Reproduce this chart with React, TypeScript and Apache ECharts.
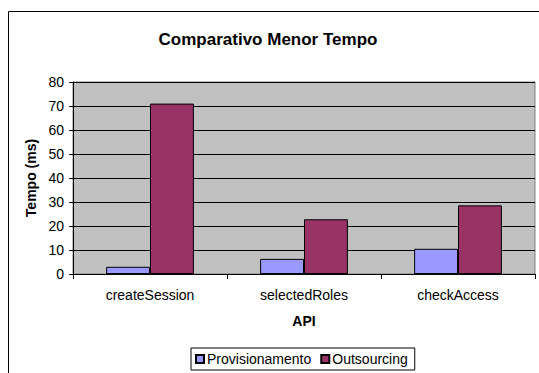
import React, { useEffect, useRef } from "react";
import * as echarts from "echarts";

const categories = ["createSession", "selectedRoles", "checkAccess"];
const provisionamento = [3.0, 6.3, 10.5];
const outsourcing = [71.0, 22.8, 28.6];
const seriesNames = ["Provisionamento", "Outsourcing"];
const yTicks = { min: 0, max: 80, interval: 10 };

const FONT = "'Liberation Sans', Arial, sans-serif";

export default function App() {
  const ref = useRef<HTMLDivElement>(null);
  useEffect(() => {
    if (!ref.current) return;
    const chart = echarts.init(ref.current, undefined, { renderer: "svg" });
    chart.setOption({
      animation: false,
      backgroundColor: "#ffffff",
      textStyle: { fontFamily: FONT },
      graphic: [
        {
          type: "rect",
          shape: { x: 8.5, y: 11.5, width: 540, height: 370 },
          style: { fill: "none", stroke: "#000", lineWidth: 1 },
          silent: true,
        },
      ],
      title: {
        text: "Comparativo Menor Tempo",
        left: 263,
        textAlign: "center",
        top: 26,
        textStyle: { fontFamily: FONT, fontSize: 17, fontWeight: "bold", color: "#000" },
      },
      grid: {
        left: 73,
        right: 4,
        top: 82,
        bottom: 99,
        show: true,
        backgroundColor: "#C0C0C0",
        borderColor: "#808080",
        borderWidth: 1,
      },
      legend: {
        data: seriesNames,
        left: 191,
        top: 348,
        itemWidth: 8,
        itemHeight: 8,
        itemGap: 9,
        padding: [4, 7, 4, 4],
        borderColor: "#000",
        borderWidth: 1,
        borderRadius: 0,
        icon: "rect",
        textStyle: { fontFamily: FONT, fontSize: 14, color: "#000", padding: [0, 0, 0, -2] },
      },
      xAxis: {
        type: "category",
        data: categories,
        name: "API",
        nameLocation: "middle",
        nameGap: 40,
        nameTextStyle: { fontFamily: FONT, fontSize: 14, fontWeight: "bold", color: "#000" },
        axisLine: { lineStyle: { color: "#000", width: 1 } },
        axisTick: { show: true, length: 5, lineStyle: { color: "#000" } },
        axisLabel: { fontFamily: FONT, fontSize: 14, color: "#000", margin: 14 },
        splitLine: { show: false },
      },
      yAxis: {
        type: "value",
        min: yTicks.min,
        max: yTicks.max,
        interval: yTicks.interval,
        name: "Tempo (ms)",
        nameLocation: "middle",
        nameGap: 33,
        nameRotate: 90,
        nameTextStyle: { fontFamily: FONT, fontSize: 14, fontWeight: "bold", color: "#000" },
        axisLine: { show: true, lineStyle: { color: "#000", width: 1 } },
        axisTick: { show: true, length: 4, lineStyle: { color: "#000" } },
        axisLabel: { fontFamily: FONT, fontSize: 14, color: "#000", margin: 9 },
        splitLine: { show: true, lineStyle: { color: "#000", width: 1 } },
      },
      series: [
        {
          name: seriesNames[0],
          type: "bar",
          data: provisionamento,
          barGap: "0%",
          barCategoryGap: "43%",
          itemStyle: { color: "#9999FF", borderColor: "#000", borderWidth: 1 },
        },
        {
          name: seriesNames[1],
          type: "bar",
          data: outsourcing,
          barGap: "0%",
          barCategoryGap: "43%",
          itemStyle: { color: "#993366", borderColor: "#000", borderWidth: 1 },
        },
      ],
    });
    return () => chart.dispose();
  }, []);
  return (
    <div
      ref={ref}
      style={{ position: "fixed", left: 0, top: 0, width: 539, height: 373 }}
    />
  );
}
